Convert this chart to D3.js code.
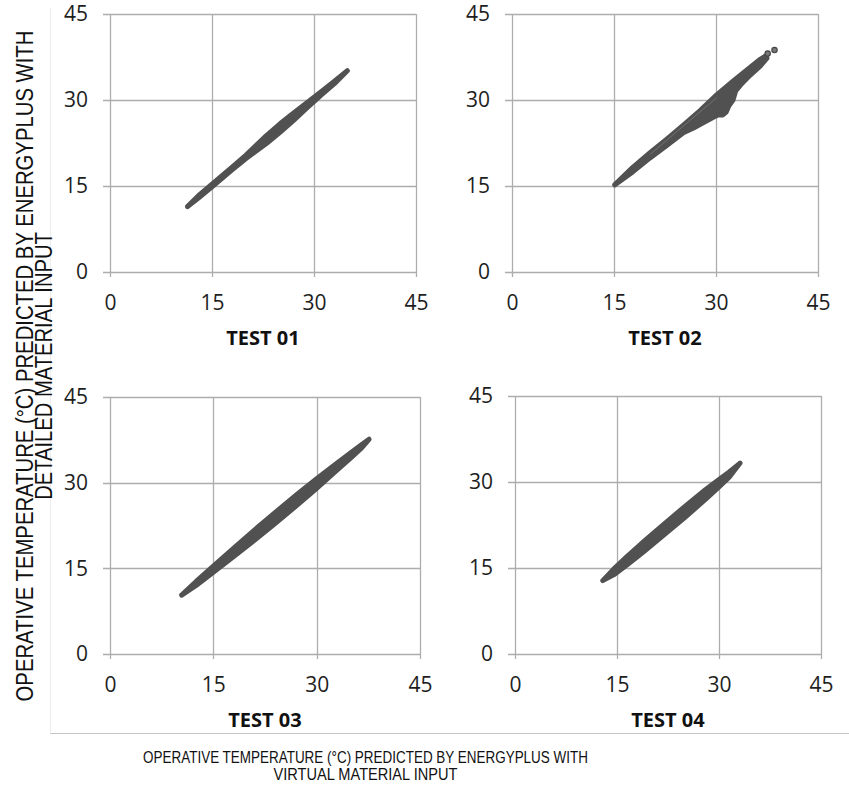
<!DOCTYPE html>
<html>
<head>
<meta charset="utf-8">
<script src="https://cdn.jsdelivr.net/npm/d3@7"></script>
<style>
  html, body { margin: 0; padding: 0; background: #ffffff; }
  svg { display: block; }
</style>
</head>
<body>
<svg id="chart" width="849" height="794"></svg>
<script>
// Panel titles and shared axis ticks (°C)
const testNames = ["TEST 01", "TEST 02", "TEST 03", "TEST 04"];
const axisTicks = [0, 15, 30, 45];
const axisDomain = [0, 45];

// Outline of each dense scatter cloud: upper and lower edges (virtual x, detailed y),
// both running from the coolest point to the warmest point
const test01UpperX = [11.4, 13.0, 15.0, 18.0, 20.0, 21.5, 23.0, 25.0, 27.0, 29.0, 31.0, 33.0, 34.9];
const test01UpperY = [11.4, 13.3, 15.3, 18.35, 20.4, 22.1, 23.8, 25.85, 27.75, 29.55, 31.4, 33.3, 35.1];
const test01LowerX = [11.4, 13.0, 15.0, 18.0, 20.0, 21.5, 23.0, 25.0, 27.0, 29.0, 31.0, 33.0, 34.9];
const test01LowerY = [11.4, 12.9, 14.85, 17.85, 19.8, 21.1, 22.4, 24.35, 26.45, 28.65, 30.8, 32.85, 35.1];

const test02UpperX = [15.1, 17.8, 20.3, 22.8, 25.2, 27.7, 30.1, 32.5, 35.0, 36.5, 37.3];
const test02UpperY = [15.2, 18.3, 20.8, 23.2, 25.6, 28.2, 30.9, 33.3, 35.7, 37.1, 37.7];
const test02LowerX = [15.1, 17.8, 20.3, 22.8, 25.2, 26.7, 28.1, 29.6, 30.3, 31.0, 31.5, 31.9, 32.5, 32.9, 33.6, 35.0, 36.5, 37.5];
const test02LowerY = [15.2, 17.5, 19.9, 22.1, 24.3, 25.1, 26.0, 27.0, 27.4, 27.4, 27.9, 29.0, 30.0, 31.6, 32.6, 34.3, 35.9, 37.3];
const test02OutlierX = [37.6, 38.6];
const test02OutlierY = [38.1, 38.7];
const test02StreakX = [20.3, 30.1];
const test02StreakY = [20.5, 30.4];

const test03UpperX = [10.4, 12.5, 15.0, 18.0, 21.0, 24.0, 27.0, 30.0, 32.5, 35.0, 36.5, 37.6];
const test03UpperY = [10.3, 12.7, 15.4, 18.6, 21.75, 24.8, 27.8, 30.7, 33.0, 35.3, 36.65, 37.6];
const test03LowerX = [10.4, 12.5, 15.0, 18.0, 21.0, 24.0, 27.0, 30.0, 32.5, 35.0, 36.5, 37.6];
const test03LowerY = [10.3, 12.0, 14.3, 17.1, 19.95, 22.9, 25.9, 29.0, 31.7, 34.4, 36.05, 37.6];

const test04UpperX = [12.9, 14.5, 16.5, 19.0, 22.0, 25.0, 28.0, 30.0, 31.5, 33.1];
const test04UpperY = [12.8, 14.8, 17.05, 19.7, 22.75, 25.75, 28.65, 30.45, 31.75, 33.3];
const test04LowerX = [12.9, 14.5, 16.5, 19.0, 22.0, 25.0, 28.0, 30.0, 31.5, 33.1];
const test04LowerY = [12.8, 13.8, 15.55, 17.9, 20.85, 23.85, 26.95, 29.15, 30.85, 33.3];

const clouds = [
  { upper: [test01UpperX, test01UpperY], lower: [test01LowerX, test01LowerY] },
  { upper: [test02UpperX, test02UpperY], lower: [test02LowerX, test02LowerY],
    outliers: [test02OutlierX, test02OutlierY], streak: [test02StreakX, test02StreakY] },
  { upper: [test03UpperX, test03UpperY], lower: [test03LowerX, test03LowerY] },
  { upper: [test04UpperX, test04UpperY], lower: [test04LowerX, test04LowerY] }
];

// Plot rectangles of the 2x2 grid
const frames = [
  { left: 110, right: 416, top: 14,  bottom: 272 },
  { left: 512, right: 818, top: 14,  bottom: 272 },
  { left: 110, right: 420, top: 397, bottom: 654 },
  { left: 515, right: 821, top: 396, bottom: 654 }
];

const GRID = "#adadad";
const MARK = "#515151";
const TICK_FONT = "'Open Sans', sans-serif";

const svg = d3.select("#chart");

// Outer chart border (left and bottom edges)
svg.append("line").attr("x1", 50).attr("x2", 849).attr("y1", 733.5).attr("y2", 733.5)
  .attr("stroke", "#c4c4c4").attr("stroke-width", 1.2);
svg.append("line").attr("x1", 50.5).attr("x2", 50.5).attr("y1", 8).attr("y2", 733.5)
  .attr("stroke", "#ececec").attr("stroke-width", 1);

testNames.forEach((name, i) => {
  const f = frames[i];
  const w = f.right - f.left, h = f.bottom - f.top;
  const x = d3.scaleLinear().domain(axisDomain).range([0, w]);
  const y = d3.scaleLinear().domain(axisDomain).range([h, 0]);
  const g = svg.append("g").attr("transform", `translate(${f.left},${f.top})`);

  // gridlines, extended past the axes as tick marks
  g.append("g").selectAll("line").data(axisTicks).join("line")
    .attr("x1", -7).attr("x2", w)
    .attr("y1", d => Math.round(y(d)) + 0.5).attr("y2", d => Math.round(y(d)) + 0.5)
    .attr("stroke", GRID).attr("stroke-width", 1.3);
  g.append("g").selectAll("line").data(axisTicks).join("line")
    .attr("y1", 0).attr("y2", h + 5)
    .attr("x1", d => Math.round(x(d)) + 0.5).attr("x2", d => Math.round(x(d)) + 0.5)
    .attr("stroke", GRID).attr("stroke-width", 1.3);

  // tick labels
  const ay = g.append("g").call(d3.axisLeft(y).tickValues(axisTicks).tickSize(7).tickPadding(15));
  const ax = g.append("g").attr("transform", `translate(0,${h})`)
    .call(d3.axisBottom(x).tickValues(axisTicks).tickSize(5).tickPadding(18));
  [ax, ay].forEach(a => {
    a.select(".domain").remove();
    a.selectAll(".tick line").remove();
    a.selectAll("text").attr("font-family", TICK_FONT).attr("font-size", 21).attr("fill", "#1e1e1e");
  });

  // scatter cloud outline, rounded ends from the stroke
  const c = clouds[i];
  const pts = c.upper[0].map((v, k) => [v, c.upper[1][k]])
    .concat(c.lower[0].map((v, k) => [v, c.lower[1][k]]).reverse());
  const outline = d3.line().x(d => x(d[0])).y(d => y(d[1])).curve(d3.curveLinearClosed);
  g.append("path").attr("d", outline(pts))
    .attr("fill", MARK).attr("stroke", MARK).attr("stroke-width", 5)
    .attr("stroke-linejoin", "round");

  if (c.streak) {
    const s = c.streak[0].map((v, k) => [v, c.streak[1][k]]);
    g.append("path").attr("d", d3.line().x(d => x(d[0])).y(d => y(d[1]))(s))
      .attr("stroke", "#7a7a7a").attr("stroke-width", 0.8).attr("fill", "none");
  }
  if (c.outliers) {
    g.append("g").selectAll("circle").data(c.outliers[0].map((v, k) => [v, c.outliers[1][k]]))
      .join("circle").attr("cx", d => x(d[0])).attr("cy", d => y(d[1])).attr("r", 2.7)
      .attr("fill", "#777").attr("stroke", "#444").attr("stroke-width", 1.1);
  }

  // panel title
  g.append("text").attr("x", w / 2).attr("y", h + 73)
    .attr("text-anchor", "middle").attr("font-family", TICK_FONT)
    .attr("font-weight", 700).attr("font-size", 20).attr("fill", "#111").text(name);
});

// Shared axis titles, narrowed horizontally to their set lengths
const LABEL_FONT = "'Liberation Sans', Arial, sans-serif";
function condensedText(t, len, size, place) {
  const el = svg.append("text")
    .attr("text-anchor", "middle").attr("font-family", LABEL_FONT).attr("font-size", size)
    .attr("fill", "#111").text(t);
  const sx = len / el.node().getComputedTextLength();
  el.attr("transform", `${place} scale(${sx},1)`);
}

const yTitle = ["OPERATIVE TEMPERATURE (°C) PREDICTED BY ENERGYPLUS WITH", "DETAILED MATERIAL INPUT"];
const yTitleLen = [671, 268];
const yTitleX = [33, 52];
yTitle.forEach((t, k) => condensedText(t, yTitleLen[k], 23, `translate(${yTitleX[k]},366) rotate(-90)`));

const xTitle = ["OPERATIVE TEMPERATURE (°C) PREDICTED BY ENERGYPLUS WITH", "VIRTUAL MATERIAL INPUT"];
const xTitleLen = [445, 184];
const xTitleY = [763, 779.5];
xTitle.forEach((t, k) => condensedText(t, xTitleLen[k], 17, `translate(365.5,${xTitleY[k]})`));
</script>
</body>
</html>
